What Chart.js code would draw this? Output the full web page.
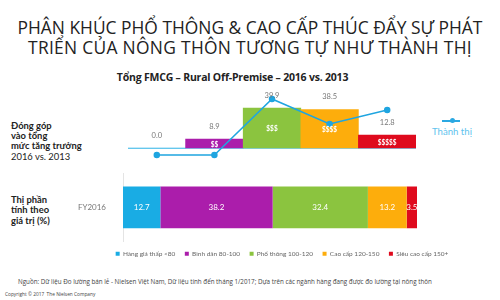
<!DOCTYPE html>
<html>
<head>
<meta charset="utf-8">
<script src="https://cdn.jsdelivr.net/npm/chart.js@4.4.1/dist/chart.umd.min.js"></script>
<style>
  body { margin: 0; width: 500px; height: 300px; overflow: hidden; background: #fff; position: relative; font-family: "Open Sans", sans-serif; }
  .abs { position: absolute; }
  #title { left: 0; top: 16.5px; width: 500px; text-align: center; font-size: 17.4px; line-height: 20px; color: #222; white-space: nowrap; }
  #t2 { letter-spacing: 0.3px; }
  #sub { left: 0; top: 69.5px; width: 465px; text-align: center; font-size: 10.5px; font-weight: bold; color: #222; letter-spacing: -0.2px; }
  .side { left: 11px; font-family: Lato, sans-serif; font-size: 9.4px; line-height: 10.3px; color: #222; }
  .side b { font-weight: bold; }
  #urbanLine { left: 442px; top: 120px; width: 18px; height: 1.5px; background: #2aa8e2; }
  #urbanDot { left: 449.5px; top: 118.3px; width: 5px; height: 5px; border-radius: 50%; background: #2aa8e2; }
  #urbanText { left: 432px; top: 125.6px; font-family: Lato, sans-serif; font-size: 9.6px; color: #5fc3ee; white-space: nowrap; }
  #note { left: 18px; top: 276.5px; font-size: 6.25px; color: #444; white-space: nowrap; }
  #copy { left: 5px; top: 291px; font-size: 4.8px; color: #444; white-space: nowrap; }
</style>
</head>
<body>
<div id="title" class="abs"><span>PHÂN KHÚC PHỔ THÔNG &amp; CAO CẤP THÚC ĐẨY SỰ PHÁT</span><br><span id="t2">TRIỂN CỦA NÔNG THÔN TƯƠNG TỰ NHƯ THÀNH THỊ</span></div>
<div id="sub" class="abs">Tổng FMCG – Rural Off-Premise – 2016 vs. 2013</div>
<div class="abs side" style="top:120.7px"><b>Đóng góp<br>vào tổng<br>mức tăng trưởng</b><br>2016 vs. 2013</div>
<div class="abs side" style="top:195px"><b>Thị phần<br>tính theo<br>giá trị (%)</b></div>
<div id="urbanLine" class="abs"></div><div id="urbanDot" class="abs"></div>
<div id="urbanText" class="abs">Thành thị</div>

<canvas id="growthChart" class="abs" style="left:0;top:80px" width="500" height="90"></canvas>
<canvas id="shareChart" class="abs" style="left:64px;top:160px" width="436" height="107"></canvas>

<div id="note" class="abs">Nguồn: Dữ liệu Đo lường bán lẻ - Nielsen Việt Nam, Dữ liệu tính đến tháng 1/2017; Dựa trên các ngành hàng đang được đo lường tại nông thôn</div>
<div id="copy" class="abs">Copyright © 2017&nbsp;&nbsp;The Nielsen Company</div>

<script>
// price segments
const segments = ['Hàng giá thấp <80', 'Bình dân 80-100', 'Phổ thông 100-120', 'Cao cấp 120-150', 'Siêu cao cấp 150+'];
const tierMarks = ['$', '$$', '$$$', '$$$$', '$$$$$'];
const segColors = ['#19ace4', '#ab1dab', '#8bc43f', '#fdad0c', '#df0a1d'];

// contribution to growth 2016 vs 2013
const ruralGrowth = [0.0, 8.9, 39.9, 38.5, 12.8];
const urbanGrowth = [-7, -7, 49, 24, 38];
const urbanLabel = 'Thành thị';

// value share
const shareRows = ['FY2016'];
const share2016 = [12.7, 38.2, 32.4, 13.2, 3.5];

Chart.defaults.animation = false;
Chart.defaults.font.family = 'Lato, sans-serif';

// light axis line at zero, only seen where no bar covers it
const zeroLine = {
  id: 'zeroLine',
  beforeDatasetsDraw(chart) {
    const { ctx, chartArea, scales } = chart;
    const y = Math.round(scales.y.getPixelForValue(0)) + 0.5;
    ctx.save();
    ctx.strokeStyle = '#7fd0f0';
    ctx.lineWidth = 1;
    ctx.beginPath();
    ctx.moveTo(chartArea.left, y);
    ctx.lineTo(chartArea.right, y);
    ctx.stroke();
    ctx.restore();
  }
};

// value above each bar, $ marks inside
const growthLabels = {
  id: 'growthLabels',
  afterDatasetsDraw(chart) {
    const ctx = chart.ctx;
    const meta = chart.getDatasetMeta(1);
    ctx.save();
    ctx.textAlign = 'center';
    ctx.textBaseline = 'middle';
    meta.data.forEach((bar, i) => {
      const p = bar.getProps(['x', 'y', 'base'], true);
      ctx.font = '7.5px Lato, sans-serif';
      ctx.fillStyle = '#777';
      ctx.fillText(ruralGrowth[i].toFixed(1), p.x, p.y - 12.5);
      if (ruralGrowth[i] > 0) {
        ctx.font = 'bold 6.5px Lato, sans-serif';
        ctx.fillStyle = '#fff';
        ctx.fillText(tierMarks[i], p.x, (p.y + p.base) / 2 + 1);
      }
    });
    ctx.restore();
  }
};

new Chart(document.getElementById('growthChart'), {
  data: {
    labels: segments,
    datasets: [
      {
        type: 'line',
        label: urbanLabel,
        data: urbanGrowth,
        borderColor: '#1fa5e0',
        backgroundColor: '#1fa5e0',
        borderWidth: 1.5,
        pointRadius: 2.5,
        tension: 0,
        order: 0
      },
      {
        type: 'bar',
        label: 'Nông thôn',
        data: ruralGrowth,
        backgroundColor: segColors,
        borderWidth: 0,
        categoryPercentage: 1,
        barPercentage: 1,
        order: 1
      }
    ]
  },
  options: {
    responsive: false,
    devicePixelRatio: 1,
    layout: { padding: { left: 128, right: 84, top: 13, bottom: 7 } },
    plugins: { legend: { display: false }, tooltip: { enabled: false } },
    scales: {
      x: { display: false },
      y: { display: false, min: -15, max: 55 }
    }
  },
  plugins: [zeroLine, growthLabels]
});

const shareLabels = {
  id: 'shareLabels',
  afterDatasetsDraw(chart) {
    const ctx = chart.ctx;
    ctx.save();
    ctx.textAlign = 'center';
    ctx.textBaseline = 'middle';
    ctx.font = '8px Lato, sans-serif';
    ctx.fillStyle = '#fff';
    chart.data.datasets.forEach((ds, di) => {
      chart.getDatasetMeta(di).data.forEach((bar, i) => {
        const p = bar.getProps(['x', 'y', 'base'], true);
        ctx.fillText(ds.data[i].toFixed(1), (p.x + p.base) / 2, p.y);
      });
    });
    ctx.restore();
  }
};

new Chart(document.getElementById('shareChart'), {
  type: 'bar',
  data: {
    labels: shareRows,
    datasets: segments.map((s, i) => ({
      label: s,
      data: [share2016[i]],
      backgroundColor: segColors[i],
      borderWidth: 0,
      categoryPercentage: 1,
      barPercentage: 0.62
    }))
  },
  options: {
    indexAxis: 'y',
    responsive: false,
    devicePixelRatio: 1,
    layout: { padding: { left: 0, right: 0, top: 7, bottom: 0 } },
    plugins: {
      tooltip: { enabled: false },
      legend: {
        position: 'bottom',
        labels: { boxWidth: 4, boxHeight: 4, padding: 9.5, color: '#666', font: { size: 6.5 } }
      }
    },
    scales: {
      x: { stacked: true, display: false, min: 0, max: 100 },
      y: {
        stacked: true,
        grid: { display: false },
        border: { color: '#e4e4e4' },
        ticks: { color: '#777', font: { size: 8 }, padding: 9 },
        afterFit(s) { s.width = 59; }
      },
      // empty right axis keeps the bar end at the same place as the growth chart
      yr: {
        type: 'category',
        position: 'right',
        grid: { display: false },
        border: { display: false },
        ticks: { display: false },
        afterFit(s) { s.width = 83; }
      }
    }
  },
  plugins: [shareLabels]
});
</script>
</body>
</html>
